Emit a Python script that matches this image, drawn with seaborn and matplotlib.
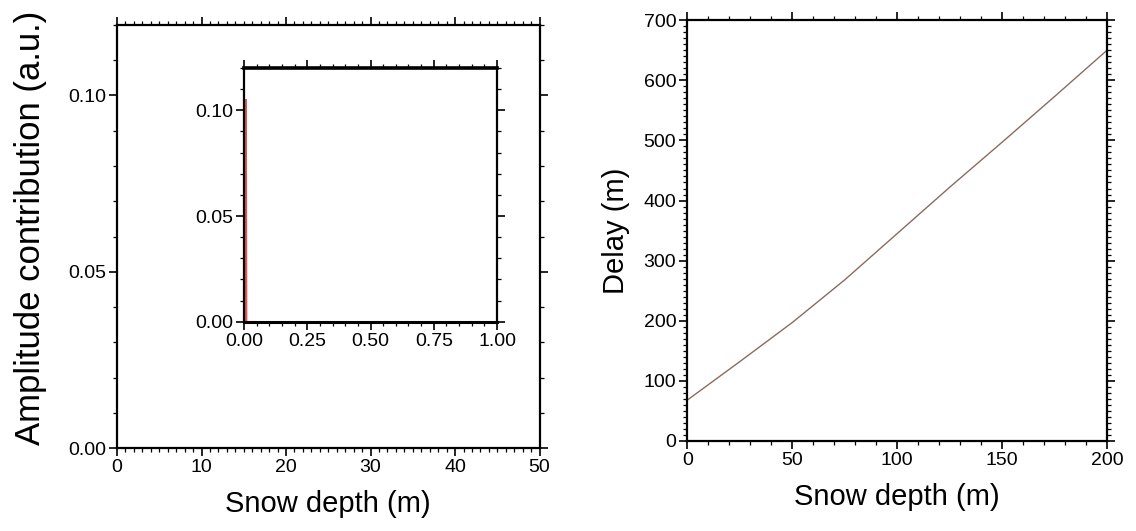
import numpy as np
import pandas as pd
import matplotlib
matplotlib.use("Agg")
import matplotlib.pyplot as plt
from matplotlib.ticker import MultipleLocator, FormatStrFormatter
import seaborn as sns

# amplitude contribution vs snow depth (spike right at the surface)
amp_depth = [0.008, 0.008, 0.010, 0.02, 0.05]
amp_value = [0.0, 0.105, 0.0, 0.0, 0.0]

# delay vs snow depth
delay_depth = [0, 25, 50, 75, 100, 125, 150, 175, 200]
delay_value = [68, 132, 197, 268, 345, 422, 497, 573, 650]


def style_axis(ax, lw=1.6):
    for side in ax.spines:
        ax.spines[side].set_visible(True)
        ax.spines[side].set_linewidth(lw)
        ax.spines[side].set_color("black")
    ax.tick_params(which="both", direction="out", top=True, right=True,
                   labeltop=False, labelright=False, colors="black")
    ax.tick_params(which="major", length=6, width=1.2, labelsize=14, pad=2)
    ax.tick_params(which="minor", length=3, width=0.9)


def main():
    sns.set_theme(style="ticks")
    plt.rcParams["font.family"] = ["Liberation Sans", "DejaVu Sans"]

    fig = plt.figure(figsize=(11.36, 5.31), dpi=100)

    # left panel
    ax1 = fig.add_axes([0.103, 0.156, 0.372, 0.797])
    amp_df = pd.DataFrame({"depth": amp_depth, "amp": amp_value})
    sns.lineplot(data=amp_df, x="depth", y="amp", ax=ax1, color="#f0f0f0",
                 linewidth=1, sort=False, estimator=None)
    ax1.set_xlim(0, 50)
    ax1.set_ylim(0, 0.12)
    ax1.xaxis.set_major_locator(MultipleLocator(10))
    ax1.xaxis.set_minor_locator(MultipleLocator(1))
    ax1.yaxis.set_major_locator(MultipleLocator(0.05))
    ax1.yaxis.set_minor_locator(MultipleLocator(0.01))
    ax1.yaxis.set_major_formatter(FormatStrFormatter("%.2f"))
    style_axis(ax1)
    ax1.set_xlabel("Snow depth (m)", fontsize=21, labelpad=10, color="black")
    ax1.set_ylabel("Amplitude contribution (a.u.)", fontsize=25, color="black")
    ax1.yaxis.set_label_coords(-0.165, 0.52)

    # inset
    ax_in = fig.add_axes([0.2148, 0.394, 0.2227, 0.478])
    sns.lineplot(data=amp_df, x="depth", y="amp", ax=ax_in, color="#e05555",
                 linewidth=1.2, sort=False, estimator=None)
    ax_in.set_xlim(0, 1)
    ax_in.set_ylim(0, 0.12)
    ax_in.xaxis.set_major_locator(MultipleLocator(0.25))
    ax_in.xaxis.set_minor_locator(MultipleLocator(0.05))
    ax_in.yaxis.set_major_locator(MultipleLocator(0.05))
    ax_in.yaxis.set_minor_locator(MultipleLocator(0.01))
    ax_in.xaxis.set_major_formatter(FormatStrFormatter("%.2f"))
    ax_in.yaxis.set_major_formatter(FormatStrFormatter("%.2f"))
    style_axis(ax_in)
    ax_in.spines["top"].set_linewidth(2.6)
    ax_in.spines["bottom"].set_linewidth(2.2)
    ax_in.set_xlabel("")
    ax_in.set_ylabel("")

    # right panel
    ax2 = fig.add_axes([0.605, 0.1695, 0.3695, 0.7925])
    delay_df = pd.DataFrame({"depth": delay_depth, "delay": delay_value})
    sns.lineplot(data=delay_df, x="depth", y="delay", ax=ax2, color="#8a6b62",
                 linewidth=1)
    ax2.set_xlim(0, 200)
    ax2.set_ylim(0, 700)
    ax2.xaxis.set_major_locator(MultipleLocator(50))
    ax2.xaxis.set_minor_locator(MultipleLocator(10))
    ax2.yaxis.set_major_locator(MultipleLocator(100))
    ax2.yaxis.set_minor_locator(MultipleLocator(10))
    style_axis(ax2)
    ax2.set_xlabel("Snow depth (m)", fontsize=21, labelpad=10, color="black")
    ax2.set_ylabel("Delay (m)", fontsize=21, labelpad=10, color="black")

    fig.savefig("out.png", dpi=100)
    plt.close(fig)


if __name__ == "__main__":
    main()
